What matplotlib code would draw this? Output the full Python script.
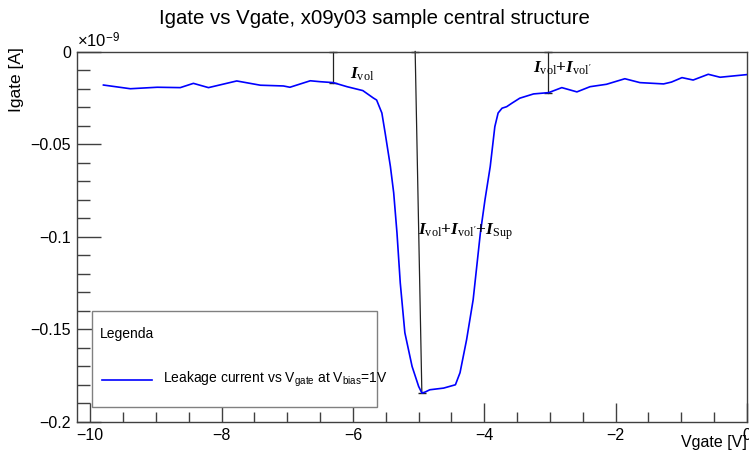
import matplotlib
matplotlib.use("Agg")
import matplotlib.pyplot as plt
from matplotlib.patches import Rectangle
from matplotlib.lines import Line2D
from matplotlib.ticker import MultipleLocator, FuncFormatter

plt.rcParams["font.family"] = ["Liberation Sans", "DejaVu Sans"]
plt.rcParams["mathtext.fontset"] = "custom"
plt.rcParams["mathtext.rm"] = "Liberation Sans"
plt.rcParams["mathtext.it"] = "Liberation Serif:italic:bold"
plt.rcParams["mathtext.sf"] = "Liberation Serif"
plt.rcParams["mathtext.bf"] = "Liberation Serif:bold"

# Gate voltage [V] and leakage current [1e-9 A]
vgate = [-9.80, -9.39, -8.98, -8.63, -8.43, -8.20, -7.77, -7.41, -7.06, -6.96,
         -6.65, -6.50, -6.30, -6.09, -5.85, -5.69, -5.64, -5.56, -5.51, -5.43,
         -5.38, -5.33, -5.28, -5.21, -5.10, -5.00, -4.95, -4.90, -4.83, -4.62,
         -4.44, -4.37, -4.27, -4.17, -4.06, -3.99, -3.91, -3.84, -3.79, -3.73,
         -3.66, -3.58, -3.46, -3.25, -3.02, -2.82, -2.59, -2.39, -2.14, -1.86,
         -1.63, -1.27, -1.15, -0.99, -0.82, -0.59, -0.41, -0.01]
igate = [-0.0181, -0.0201, -0.0193, -0.0195, -0.0172, -0.0195, -0.0159, -0.0182, -0.0186, -0.0193,
         -0.0158, -0.0163, -0.0168, -0.0190, -0.0211, -0.0251, -0.0262, -0.0332, -0.0440, -0.0621,
         -0.0763, -0.0979, -0.1249, -0.1518, -0.1700, -0.1808, -0.1844, -0.1838, -0.1826, -0.1817,
         -0.1799, -0.1734, -0.1556, -0.1340, -0.0979, -0.0801, -0.0621, -0.0406, -0.0332, -0.0306,
         -0.0298, -0.0279, -0.0252, -0.0229, -0.0222, -0.0195, -0.0218, -0.0190, -0.0177, -0.0147,
         -0.0168, -0.0175, -0.0165, -0.0141, -0.0154, -0.0123, -0.0139, -0.0125]

# Current contributions marked on the curve: (x_top, x_bottom, current at bottom)
marker_x_top = [-6.31, -5.053, -3.03]
marker_x_bot = [-6.31, -4.951, -3.03]
marker_i = [-0.0168, -0.1844, -0.0222]
marker_labels = [r"$I_{\mathsf{vol}}$",
                 r"$I_{\mathsf{vol}}\mathbf{+}I_{\mathsf{vol'}}$",
                 r"$I_{\mathsf{vol}}\mathbf{+}I_{\mathsf{vol'}}\mathbf{+}I_{\mathsf{Sup}}$"]
label_pos = [(-6.045, -0.0148), (-3.254, -0.0114), (-5.003, -0.0990)]

fig = plt.figure(figsize=(7.49, 4.55), dpi=100)
ax = fig.add_axes([76.5 / 749, 1 - 422 / 455, 670.5 / 749, 370.5 / 455])

ax.plot(vgate, igate, color="#0000ff", lw=1.2, zorder=3)

for xt, xb, yi in zip(marker_x_top, marker_x_bot, marker_i):
    ax.plot([xt, xb], [0, yi], color="#222222", lw=0.9, zorder=2,
            marker="_", markersize=6, markeredgewidth=1.0, clip_on=False)
for txt, (lx, ly) in zip(marker_labels, label_pos):
    ax.text(lx, ly, txt, fontsize=12.5, ha="left", va="baseline", color="black")

ax.set_xlim(-10.21, 0)
ax.set_ylim(-0.2, 0)

ax.xaxis.set_major_locator(MultipleLocator(2))
ax.xaxis.set_minor_locator(MultipleLocator(0.5))
ax.yaxis.set_major_locator(MultipleLocator(0.05))
ax.yaxis.set_minor_locator(MultipleLocator(0.01))

def fmt(v, pos):
    s = ("%g" % round(v, 4))
    return s.replace("-", "\u2212")

ax.xaxis.set_major_formatter(FuncFormatter(fmt))
ax.yaxis.set_major_formatter(FuncFormatter(fmt))

frame_col = "#404040"
for sp in ax.spines.values():
    sp.set_color(frame_col)
    sp.set_linewidth(1.0)
ax.tick_params(axis="both", which="both", direction="in", colors=frame_col,
               labelcolor="black", labelsize=11.5, width=1.0)
ax.tick_params(axis="x", which="major", length=14, pad=4)
ax.tick_params(axis="x", which="minor", length=7)
ax.tick_params(axis="y", which="major", length=17, pad=4)
ax.tick_params(axis="y", which="minor", length=9)

fig.text(374.5 / 749, 1 - 18 / 455, "Igate vs Vgate, x09y03 sample central structure",
         ha="center", va="center", fontsize=14.7)
fig.text(747 / 749, 1 - 442 / 455, "Vgate [V]", ha="right", va="center", fontsize=11.5)
fig.text(16 / 749, 1 - 47 / 455, "Igate [A]", ha="center", va="top", rotation=90, fontsize=12.5)
fig.text(77 / 749, 1 - 47 / 455, r"$\times$10$^{\mathrm{-9}}$", ha="left",
         va="baseline", fontsize=12)

# Legend box
ax.add_patch(Rectangle((0.0231, 0.0405), 0.4251, 0.2591, transform=ax.transAxes,
                       facecolor="white", edgecolor="#808080", lw=1.0, zorder=4))
ax.text(0.0351, 0.2375, "Legenda", transform=ax.transAxes, ha="left", va="center",
        fontsize=10, zorder=5)
ax.add_line(Line2D([0.0380, 0.1126], [0.1134, 0.1134], transform=ax.transAxes,
                   color="#0000ff", lw=1.2, zorder=5))
ax.text(0.1290, 0.1134, r"Leakage current vs V$_{\mathrm{gate}}$ at V$_{\mathrm{bias}}$=1V",
        transform=ax.transAxes, ha="left", va="center", fontsize=10, zorder=5)

fig.savefig("out.png", dpi=100)
